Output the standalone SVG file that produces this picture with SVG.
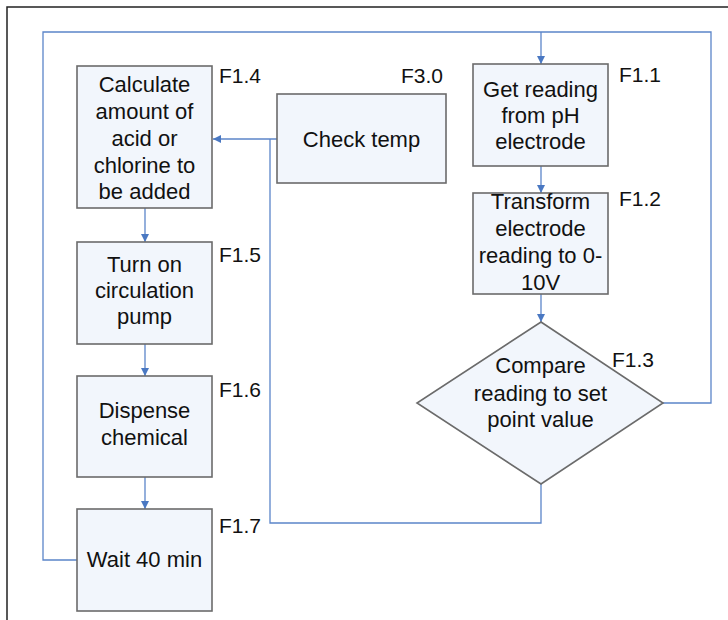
<svg xmlns="http://www.w3.org/2000/svg" width="728" height="620" viewBox="0 0 728 620">
<defs>
<marker id="ah" markerUnits="userSpaceOnUse" markerWidth="10" markerHeight="10" refX="9" refY="5" orient="auto">
<path d="M1,1 L9,5 L1,9 Z" fill="#4a78c2"/>
</marker>
<style>
.box{fill:#f2f6fc;stroke:#6b6b6b;stroke-width:1.6}
.t{font-family:"Liberation Sans",Arial,sans-serif;font-size:22px;fill:#111;text-anchor:middle}
.l{font-family:"Liberation Sans",Arial,sans-serif;font-size:21px;fill:#111}
.c{fill:none;stroke:#5b85c9;stroke-width:1.3}
.a{marker-end:url(#ah)}
</style>
</defs>
<rect x="0" y="0" width="728" height="620" fill="#ffffff"/>
<rect x="7" y="7" width="740" height="640" fill="none" stroke="#222" stroke-width="1.5"/>
<g id="connectors">
<path class="c" d="M77,560 H43 V32 H711 V403 H663"/>
<path class="c a" d="M541,32 V64"/>
<path class="c a" d="M541,166 V193"/>
<path class="c a" d="M541,294 V322"/>
<path class="c" d="M541,484 V523 H270 V139"/>
<path class="c a" d="M277,139 H213"/>
<path class="c a" d="M145,208 V242"/>
<path class="c a" d="M145,344 V376"/>
<path class="c a" d="M145,477 V509"/>
</g>
<g id="F1.4">
<rect class="box" x="77" y="66" width="135" height="142"/>
<text class="t" x="144.5" y="92">Calculate</text>
<text class="t" x="144.5" y="119">amount of</text>
<text class="t" x="144.5" y="146">acid or</text>
<text class="t" x="144.5" y="173">chlorine to</text>
<text class="t" x="144.5" y="199">be added</text>
<text class="l" x="219" y="83">F1.4</text>
</g>
<g id="F3.0">
<rect class="box" x="277" y="94" width="169" height="89"/>
<text class="t" x="361.5" y="147">Check temp</text>
<text class="l" x="443" y="83" text-anchor="end">F3.0</text>
</g>
<g id="F1.1">
<rect class="box" x="473" y="64" width="135" height="102"/>
<text class="t" x="540.5" y="97">Get reading</text>
<text class="t" x="540.5" y="123">from pH</text>
<text class="t" x="540.5" y="149">electrode</text>
<text class="l" x="619" y="82">F1.1</text>
</g>
<g id="F1.2">
<rect class="box" x="473" y="193" width="135" height="101"/>
<text class="t" x="540.5" y="209">Transform</text>
<text class="t" x="540.5" y="236">electrode</text>
<text class="t" x="540.5" y="263">reading to 0-</text>
<text class="t" x="540.5" y="290">10V</text>
<text class="l" x="619" y="206">F1.2</text>
</g>
<g id="F1.3">
<path class="box" d="M541,322 L663,403 L541,484 L417,403 Z"/>
<text class="t" x="540.5" y="373">Compare</text>
<text class="t" x="540.5" y="401">reading to set</text>
<text class="t" x="540.5" y="427">point value</text>
<text class="l" x="612" y="367">F1.3</text>
</g>
<g id="F1.5">
<rect class="box" x="77" y="242" width="135" height="102"/>
<text class="t" x="144.5" y="272">Turn on</text>
<text class="t" x="144.5" y="298">circulation</text>
<text class="t" x="144.5" y="324">pump</text>
<text class="l" x="219" y="262">F1.5</text>
</g>
<g id="F1.6">
<rect class="box" x="77" y="376" width="135" height="101"/>
<text class="t" x="144.5" y="418">Dispense</text>
<text class="t" x="144.5" y="445">chemical</text>
<text class="l" x="219" y="397">F1.6</text>
</g>
<g id="F1.7">
<rect class="box" x="77" y="509" width="135" height="102"/>
<text class="t" x="144.5" y="567">Wait 40 min</text>
<text class="l" x="219" y="533">F1.7</text>
</g>
</svg>
